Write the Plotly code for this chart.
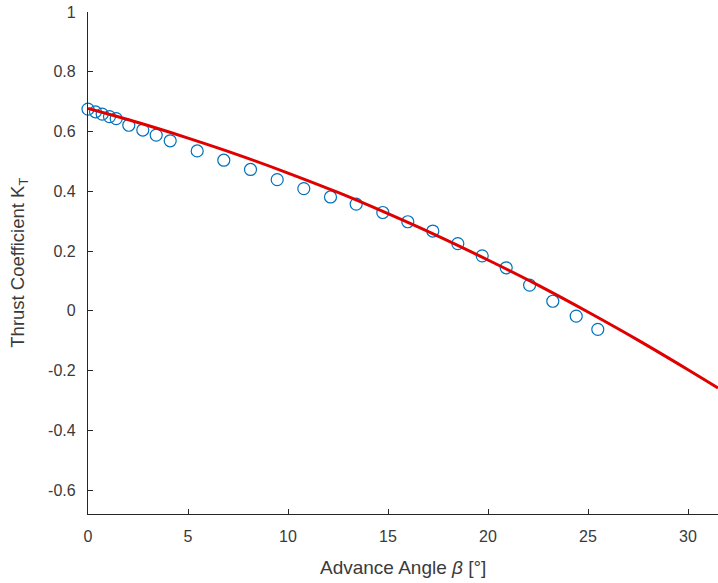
import plotly.graph_objects as go

# measured data (advance angle in degrees, thrust coefficient)
beta_meas = [0.0, 0.375, 0.71, 1.075, 1.41, 2.04, 2.74, 3.41, 4.11, 5.46, 6.79,
             8.125, 9.46, 10.79, 12.125, 13.41, 14.74, 15.99, 17.24, 18.49,
             19.71, 20.91, 22.08, 23.24, 24.41, 25.49]
kt_meas = [0.675, 0.666, 0.658, 0.650, 0.643, 0.621, 0.605, 0.588, 0.569, 0.535,
           0.504, 0.473, 0.439, 0.409, 0.381, 0.357, 0.329, 0.298, 0.267, 0.225,
           0.184, 0.144, 0.086, 0.032, -0.018, -0.062]

# fitted curve
beta_fit = [0, 2.5, 5, 7.5, 10, 12.5, 15, 17.5, 20, 22.5, 25, 27.5, 30, 31.5]
kt_fit = [0.677, 0.630, 0.578, 0.522, 0.461, 0.396, 0.325, 0.250, 0.170, 0.086,
          -0.004, -0.098, -0.197, -0.258]

x_ticks = [0, 5, 10, 15, 20, 25, 30]
x_ticktext = ["0", "5", "10", "15", "20", "25", "30"]
y_ticks = [1, 0.8, 0.6, 0.4, 0.2, 0, -0.2, -0.4, -0.6]
y_ticktext = ["1", "0.8", "0.6", "0.4", "0.2", "0", "-0.2", "-0.4", "-0.6"]

x_title = "Advance Angle <i>β</i> [°]"
y_title = "Thrust Coefficient K<sub>T</sub>"

axis_color = "#262626"
text_color = "#3a3a3a"
font_family = "Liberation Sans, Arial, sans-serif"

fig = go.Figure()
fig.add_trace(go.Scatter(
    x=beta_meas, y=kt_meas, mode="markers",
    marker=dict(symbol="circle-open", size=12, color="#0072BD",
                line=dict(width=1.2, color="#0072BD")),
    showlegend=False, cliponaxis=False,
))
fig.add_trace(go.Scatter(
    x=beta_fit, y=kt_fit, mode="lines", line_shape="spline",
    line=dict(color="#E00000", width=3),
    showlegend=False,
))

fig.update_layout(
    width=718, height=583,
    margin=dict(l=88, r=0, t=12, b=69, autoexpand=False),
    plot_bgcolor="white", paper_bgcolor="white",
    font=dict(family=font_family, size=16, color=text_color),
    annotations=[
        dict(text=x_title, xref="paper", yref="paper", x=0.5, y=-0.106,
             xanchor="center", yanchor="middle", showarrow=False,
             font=dict(size=19, color=text_color)),
        dict(text=y_title, xref="paper", yref="paper", x=-0.11, y=0.5,
             xanchor="center", yanchor="middle", showarrow=False, textangle=-90,
             font=dict(size=18.5, color=text_color)),
    ],
)
fig.update_xaxes(
    range=[0, 31.5], tickvals=x_ticks, ticktext=x_ticktext, automargin=False,
    ticks="inside", ticklen=5, tickwidth=1, tickcolor=axis_color,
    showline=True, linecolor=axis_color, linewidth=1.2,
    showgrid=False, zeroline=False, ticklabelstandoff=8,
)
fig.update_yaxes(
    range=[-0.68, 1.0], tickvals=y_ticks, ticktext=y_ticktext, automargin=False,
    ticks="inside", ticklen=5, tickwidth=1, tickcolor=axis_color,
    showline=True, linecolor=axis_color, linewidth=1.2,
    showgrid=False, zeroline=False, ticklabelstandoff=8,
)

fig.write_html(
    "out.html",
    config={"displayModeBar": False},
    post_script="document.body.style.margin='0';document.body.style.overflow='hidden';",
)
